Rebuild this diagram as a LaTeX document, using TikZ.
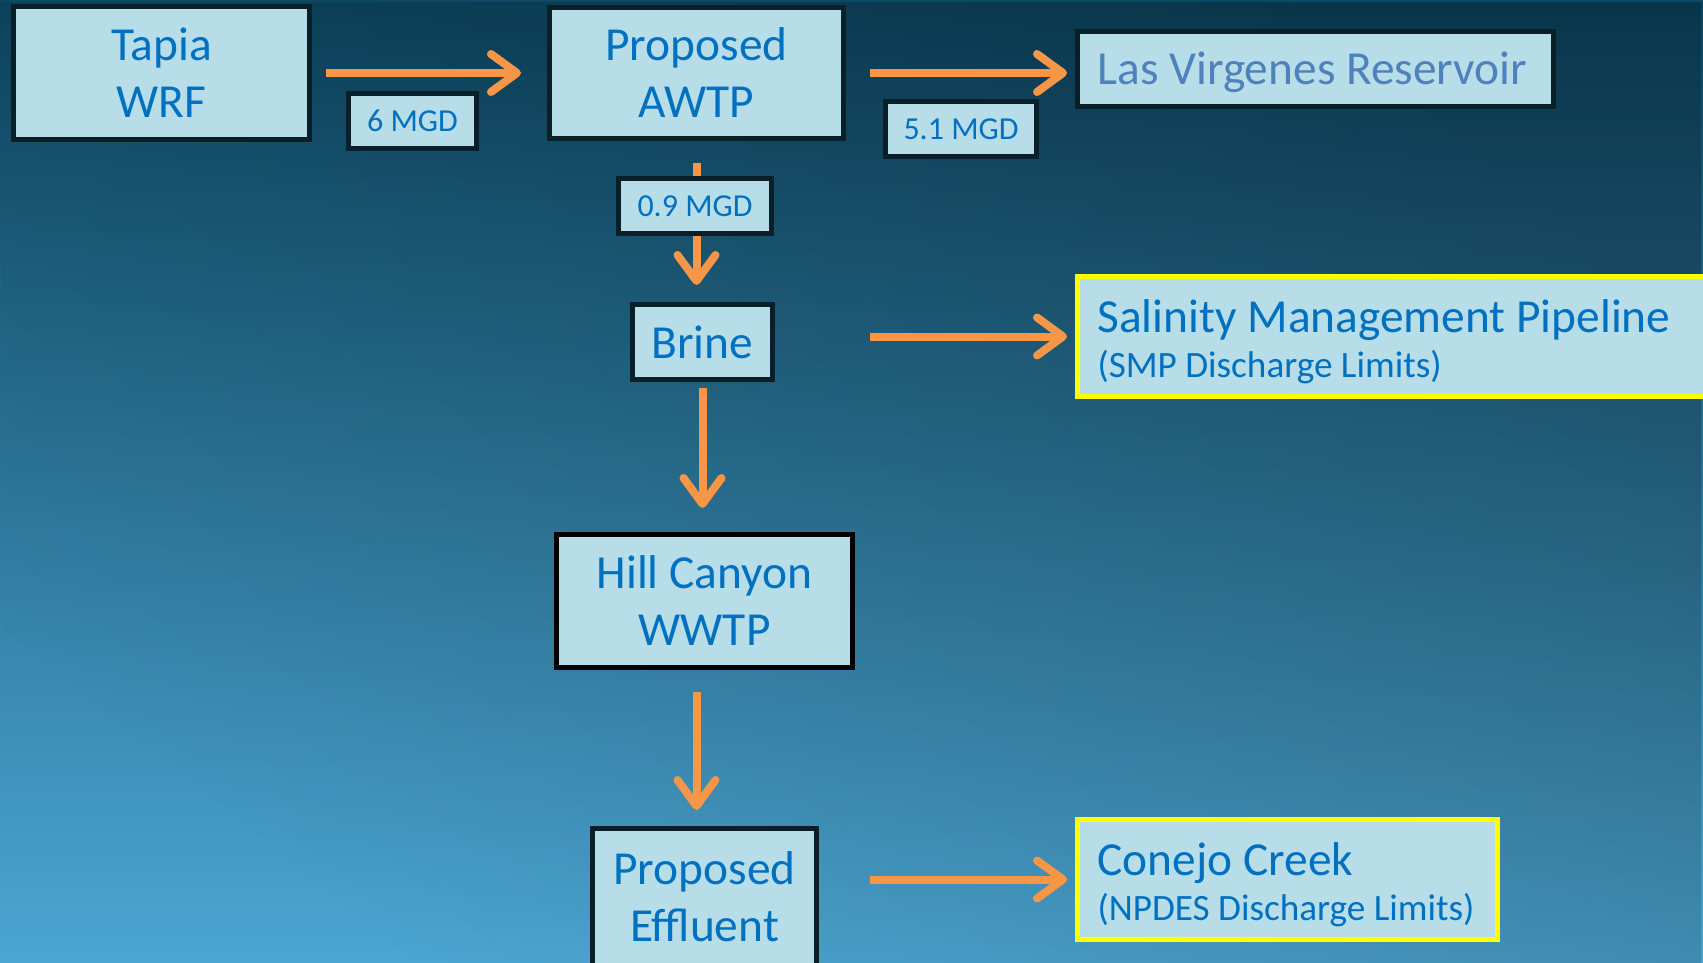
\documentclass[tikz,border=0pt]{standalone}
\usepackage{fontspec}
\setmainfont{Carlito}
\usetikzlibrary{arrows.meta,fadings}
\definecolor{boxfill}{HTML}{B7DDE8}
\definecolor{boxline}{HTML}{0A2029}
\definecolor{txt}{HTML}{0070C0}
\definecolor{txtlight}{HTML}{4F81BD}
\definecolor{arrowc}{HTML}{F79646}
\definecolor{bgtop}{HTML}{0D4864}
\definecolor{bgmid}{HTML}{1F6D93}
\definecolor{bgbot}{HTML}{4CA6D2}
\definecolor{hiyellow}{HTML}{FFFF00}
\tikzfading[name=darkright, left color=transparent!100, right color=transparent!0]
\tikzset{
  box/.style={draw=boxline, line width=2.5pt, fill=boxfill, text=txt,
    font=\fontsize{23.7}{28.5}\selectfont, align=center, inner sep=0pt},
  lbl/.style={box, font=\fontsize{16}{19}\selectfont},
  sidebox/.style={box, anchor=west, align=flush left, inner xsep=10pt, inner ysep=0pt},
  flow/.style={draw=arrowc, line width=4pt,
    -{Straight Barb[round,length=13pt,width=19pt]}}
}
\newcommand\subtext[1]{{\fontsize{18.6}{22}\selectfont #1}}
\newcommand\topstrut{\rule{0pt}{21.5pt}}
\begin{document}
\begin{tikzpicture}[x=0.5pt,y=-0.5pt]
\useasboundingbox (0,0) rectangle (1703,963);
\clip (0,0) rectangle (1703,963);
% background
\shade[top color=bgtop, middle color=bgmid, bottom color=bgbot] (0,0) rectangle (1703,963);
\fill[black, opacity=0.25, path fading=darkright, fading angle=35] (0,0) rectangle (1703,963);

% nodes
\node[box, minimum width=148pt, minimum height=66.5pt] (tapia) at (161.5,73) {Tapia\\WRF};
\node[box, minimum width=147pt, minimum height=65.5pt] (awtp) at (696.5,73) {Proposed\\AWTP};
\node[lbl, minimum width=64pt, minimum height=27.5pt] (six) at (412.5,121) {6 MGD};
\node[lbl, minimum width=75.5pt, minimum height=27.5pt] (fivep) at (961,129) {5.1 MGD};
\node[sidebox, text=txtlight, text width=218pt, minimum height=37.5pt, text depth=1pt] (lasv) at (1075,69) {Las Virgenes Reservoir};
\node[box, minimum width=70pt, minimum height=37.5pt] (brine) at (702.5,342) {Brine};
\node[sidebox, draw=hiyellow, text width=297.5pt, minimum height=60pt] (smp) at (1075,336.5)
  {\topstrut Salinity Management Pipeline\\[-6pt]\subtext{(SMP Discharge Limits)}};
\node[box, draw=black, minimum width=148pt, minimum height=66.5pt] (hill) at (704.5,601) {Hill Canyon\\WWTP};
\node[box, minimum width=112pt, minimum height=68.5pt] (effl) at (704.5,897) {Proposed\\Effluent};
\node[sidebox, draw=hiyellow, text width=190pt, minimum height=60pt] (conejo) at (1075,879.5)
  {\topstrut Conejo Creek\\[-6pt]\subtext{(NPDES Discharge Limits)}};

% connectors
\draw[flow, shorten <=7pt, shorten >=13pt] (tapia.east) -- (awtp.west);
\draw[flow, shorten <=12pt, shorten >=4pt] (awtp.east) -- (awtp.east -| lasv.west);
\draw[flow, shorten <=11pt, shorten >=8.5pt] (awtp.south) -- (awtp.south |- brine.north);
\node[lbl, minimum width=76.5pt, minimum height=27.5pt] (zero) at (695,206) {0.9 MGD};
\draw[flow, shorten <=12pt, shorten >=4pt] (awtp.east |- smp.west) -- (smp.west);
\draw[flow, shorten <=3pt, shorten >=12pt] (brine.south) -- (brine.south |- hill.north);
\draw[flow, shorten <=11pt, shorten >=8pt] (awtp.south |- hill.south) -- (awtp.south |- effl.north);
\draw[flow, shorten <=12pt, shorten >=4pt] (awtp.east |- conejo.west) -- (conejo.west);
\end{tikzpicture}
\end{document}
